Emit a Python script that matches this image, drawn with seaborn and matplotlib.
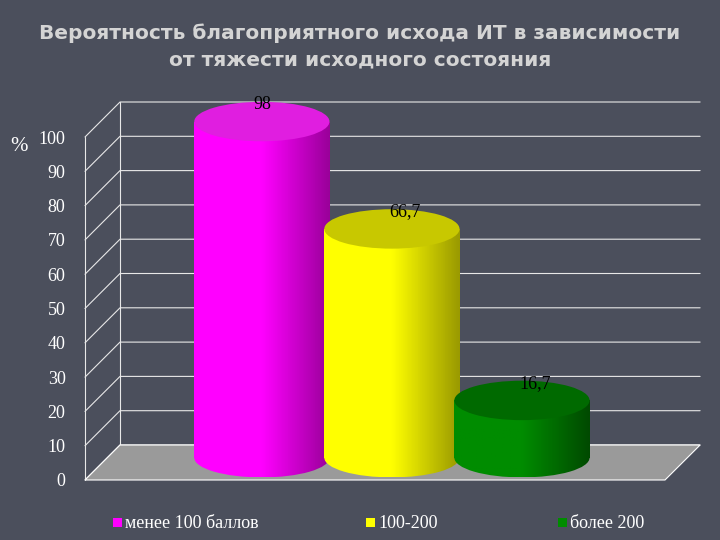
import numpy as np
import pandas as pd
import matplotlib
matplotlib.use("Agg")
import matplotlib.pyplot as plt
import seaborn as sns
from matplotlib.patches import Ellipse, Polygon, Rectangle
from matplotlib.colors import LinearSegmentedColormap

categories = ["менее 100 баллов", "100-200", "более 200"]
values = [98, 66.7, 16.7]
labels = ["98", "66,7", "16,7"]
colors = ["#ff00ff", "#ffff00", "#008c00"]
dark = ["#9a009a", "#9a9a00", "#004a00"]
tops = ["#e01ee0", "#c8c800", "#006a00"]
yticks = list(range(0, 101, 10))

BG = "#4b4f5c"
sns.set_theme(style="white")
plt.rcParams['font.family'] = ['DejaVu Sans']
fig = plt.figure(figsize=(7.2, 5.4), dpi=100, facecolor=BG)
ax = fig.add_axes([85/720, 60/540, 580/720, 343/540])
ax.set_facecolor("none")
for s in ax.spines.values():
    s.set_visible(False)

base = 6.5
df = pd.DataFrame({"cat": categories, "val": values})
sns.barplot(data=df, x="cat", y="val", hue="cat", palette=colors, width=1.04,
            legend=False, ax=ax, bottom=base, zorder=3, linewidth=0, edgecolor="none")
ax.set_xlim(-1.36, 3.1)
ax.set_ylim(0, 100)

# back wall grid & floor
dx, dy = 35/130, 35/3.43
for v in yticks:
    ax.plot([-1.36, -1.36+dx, 3.37], [v, v+dy, v+dy], color="#e8e8e8", lw=0.8, clip_on=False, zorder=1)
ax.plot([-1.36+dx, -1.36+dx], [dy, 100+dy], color="#e8e8e8", lw=0.8, clip_on=False, zorder=1)
ax.plot([-1.36, -1.36], [0, 100], color="#e8e8e8", lw=0.8, clip_on=False, zorder=1)
ax.add_patch(Polygon([(-1.36, 0), (-1.36+dx, dy), (3.37, dy), (3.1, 0)], closed=True,
                     facecolor="#9a9a9a", edgecolor="white", lw=0.8, clip_on=False, zorder=2))

eh = 11.5
bars = [p for p in ax.patches if isinstance(p, Rectangle)][:3]
for i, p in enumerate(bars):
    x0, w = p.get_x(), p.get_width()
    cm = LinearSegmentedColormap.from_list("g", [colors[i], colors[i], dark[i]])
    grad = np.linspace(0, 1, 100).reshape(1, -1)
    top = base + values[i]
    im = ax.imshow(grad, extent=[x0, x0+w, base, top], aspect="auto", cmap=cm, zorder=3)
    im.set_clip_path(p)
    bot = Ellipse((x0+w/2, base), w, eh, facecolor="none", edgecolor="none", zorder=2.9, clip_on=False)
    ax.add_patch(bot)
    im2 = ax.imshow(grad, extent=[x0, x0+w, base-eh/2, base], aspect="auto", cmap=cm, zorder=2.9)
    im2.set_clip_path(bot)
    ax.add_patch(Ellipse((x0+w/2, top), w, eh, facecolor=tops[i], edgecolor="none", zorder=4, clip_on=False))
    ax.text(x0+w/2 + (0 if i == 0 else 0.1), top + 2.5, labels[i], ha="center", va="bottom",
            family="Liberation Serif", fontsize=13, color="black", zorder=5, clip_on=False)
ax.set_xlim(-1.36, 3.1)
ax.set_ylim(0, 100)

ax.set_yticks(yticks)
ax.set_yticklabels([str(v) for v in yticks], family="Liberation Serif", fontsize=13, color="white")
ax.tick_params(axis="y", length=0, pad=14)
ax.set_xticks([])
ax.set_xlabel("")
ax.set_ylabel("")
fig.text(10/720, 1-147/540, "%", family="Liberation Serif", fontsize=15, color="white", va="center")

fig.text(0.5, 1-33/540, "Вероятность благоприятного исхода ИТ в зависимости", ha="center", va="center",
         fontsize=14.5, fontweight="bold", color="#d4d4d4")
fig.text(0.5, 1-60/540, "от тяжести исходного состояния", ha="center", va="center",
         fontsize=14.5, fontweight="bold", color="#d4d4d4")

legx = [113, 366, 558]
for i, c in enumerate(categories):
    fig.patches.append(Rectangle((legx[i]/720, 1-527/540), 9/720, 9/540, transform=fig.transFigure,
                                 facecolor=colors[i], edgecolor="none"))
    fig.text((legx[i]+12)/720, 1-523/540, c, family="Liberation Serif", fontsize=13, color="white", va="center")

fig.savefig("out.png", dpi=100, facecolor=BG)
